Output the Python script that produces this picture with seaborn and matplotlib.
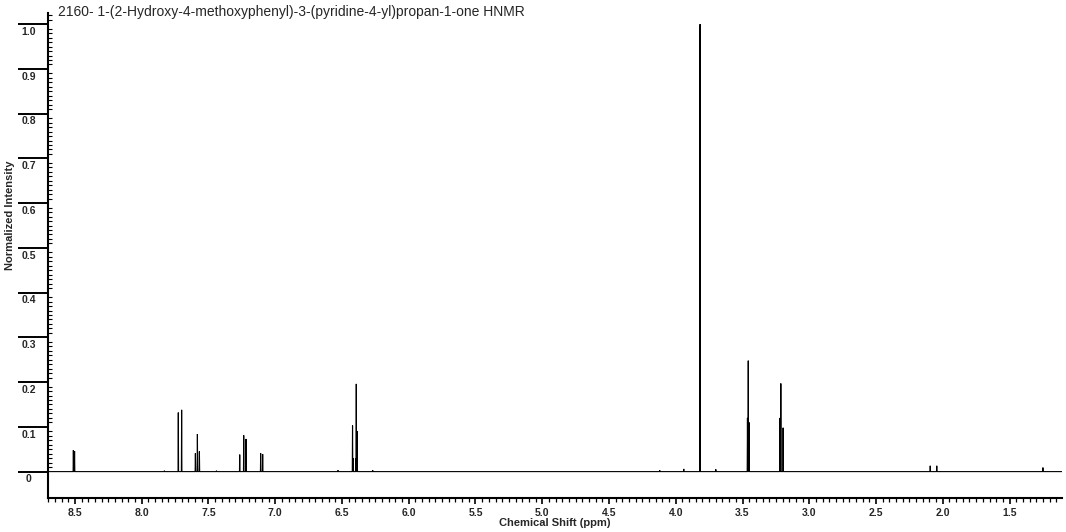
import numpy as np
import pandas as pd
import matplotlib
matplotlib.use("Agg")
import matplotlib.pyplot as plt
import matplotlib.ticker as mticker
import seaborn as sns

# Peak list (ppm, normalized intensity)
peak_ppm = [8.512, 8.503, 7.83, 7.726, 7.701, 7.598, 7.583, 7.568, 7.44,
            7.266, 7.236, 7.219, 7.109, 7.094, 6.53, 6.421, 6.417, 6.397,
            6.393, 6.386, 6.27, 4.12, 3.94, 3.818, 3.70, 3.463, 3.457,
            3.451, 3.219, 3.213, 3.196, 2.094, 2.045, 1.25]
peak_height = [0.048, 0.046, 0.002, 0.132, 0.138, 0.041, 0.084, 0.045, 0.002,
               0.038, 0.081, 0.073, 0.041, 0.039, 0.003, 0.103, 0.03, 0.03,
               0.196, 0.09, 0.003, 0.003, 0.006, 1.0, 0.005, 0.12, 0.248,
               0.11, 0.12, 0.197, 0.098, 0.013, 0.013, 0.009]

ppm_range = (8.702, 1.107)
y_range = (-0.059, 1.025)
y_major = [0, 0.1, 0.2, 0.3, 0.4, 0.5, 0.6, 0.7, 0.8, 0.9, 1.0]
y_major_labels = ["0", "0.1", "0.2", "0.3", "0.4", "0.5", "0.6", "0.7", "0.8", "0.9", "1.0"]
x_major = [8.5, 8.0, 7.5, 7.0, 6.5, 6.0, 5.5, 5.0, 4.5, 4.0, 3.5, 3.0, 2.5, 2.0, 1.5]

TITLE = "2160- 1-(2-Hydroxy-4-methoxyphenyl)-3-(pyridine-4-yl)propan-1-one HNMR"

# build the trace: flat baseline with a narrow spike for every peak
HALF_W = 0.002
order = np.argsort(peak_ppm)[::-1]
xs = [ppm_range[0]]
ys = [0.0]
for i in order:
    p, h = peak_ppm[i], peak_height[i]
    xs += [p + HALF_W, p, p - HALF_W]
    ys += [0.0, h, 0.0]
xs.append(ppm_range[1])
ys.append(0.0)
spec = pd.DataFrame({"shift": xs, "intensity": ys})

sns.set_style("white")
plt.rcParams["font.family"] = ["Liberation Sans", "DejaVu Sans"]

W, H = 1066, 532
fig = plt.figure(figsize=(W / 100, H / 100), dpi=100)
ax_l, ax_r, ax_t, ax_b = 48, 1062, 13, 498
ax = fig.add_axes([ax_l / W, 1 - ax_b / H, (ax_r - ax_l) / W, (ax_b - ax_t) / H])

sns.lineplot(data=spec, x="shift", y="intensity", sort=False, estimator=None,
             color="black", linewidth=0.8, ax=ax)
for ln in ax.get_lines():
    ln.set_solid_joinstyle("bevel")

ax.set_xlim(*ppm_range)
ax.set_ylim(*y_range)

for s in ["top", "right"]:
    ax.spines[s].set_visible(False)
for s in ["left", "bottom"]:
    ax.spines[s].set_linewidth(1.5)
    ax.spines[s].set_color("black")

# x axis ticks
ax.xaxis.set_major_locator(mticker.FixedLocator(x_major))
ax.xaxis.set_minor_locator(mticker.MultipleLocator(0.05))
ax.set_xticklabels([f"{v:.1f}" for v in x_major])
ax.tick_params(axis="x", which="both", bottom=True)
ax.tick_params(axis="x", which="major", direction="out", length=4.5, width=1.2,
               pad=2.5, labelsize=7.5, color="black")
ax.tick_params(axis="x", which="minor", direction="out", length=3, width=0.9,
               color="black")
for lab in ax.get_xticklabels():
    lab.set_fontweight("bold")

# y axis: long outward major ticks with labels under them, short inward minor ticks
ax.yaxis.set_major_locator(mticker.FixedLocator(y_major))
ax.yaxis.set_minor_locator(mticker.FixedLocator(np.arange(0.01, 1.03, 0.01)))
ax.tick_params(axis="y", which="both", left=True)
ax.tick_params(axis="y", which="major", direction="out", length=21.6, width=1.4,
               labelleft=False, color="black")
ax.tick_params(axis="y", which="minor", direction="in", length=3, width=0.8,
               color="black")
lab_x = (29 - ax_l) / (ax_r - ax_l)
for v, t in zip(y_major, y_major_labels):
    ax.text(lab_x, v - 0.006, t, transform=ax.get_yaxis_transform(),
            ha="center", va="top", fontsize=7.5, fontweight="bold")

ax.set_xlabel("Chemical Shift (ppm)", fontsize=8, fontweight="bold", va="center")
ax.xaxis.set_label_coords(0.5, (ax_b - 523) / (ax_b - ax_t))
ax.set_ylabel("Normalized Intensity", fontsize=8, fontweight="bold", va="center")
ax.yaxis.set_label_coords((10 - ax_l) / (ax_r - ax_l), (ax_b - 215) / (ax_b - ax_t))

fig.text(58 / W, 1 - 12 / H, TITLE, ha="left", va="center", fontsize=10)

fig.savefig("out.png", dpi=100)
plt.close(fig)
